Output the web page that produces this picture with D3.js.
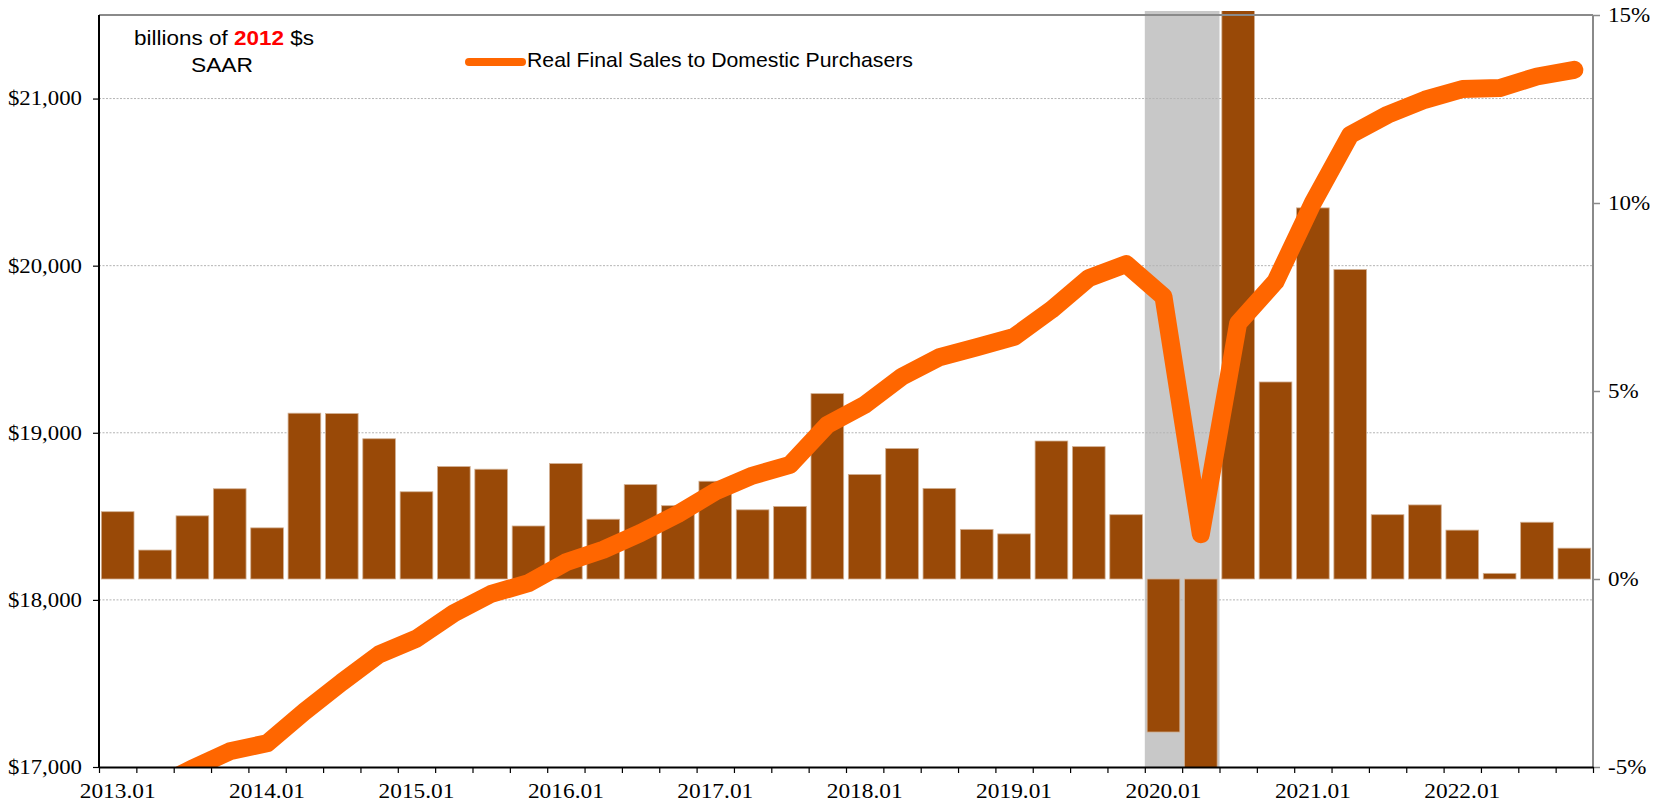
<!DOCTYPE html>
<html>
<head>
<meta charset="utf-8">
<script src="https://cdn.jsdelivr.net/npm/d3@7"></script>
<style>
  html, body { margin: 0; padding: 0; background: #fff; }
  svg { display: block; }
</style>
</head>
<body>
<svg id="chart" width="1662" height="804"></svg>
<script>
// ---------------- DATA ----------------
const quarters = [
  "2013.01","2013.04","2013.07","2013.10",
  "2014.01","2014.04","2014.07","2014.10",
  "2015.01","2015.04","2015.07","2015.10",
  "2016.01","2016.04","2016.07","2016.10",
  "2017.01","2017.04","2017.07","2017.10",
  "2018.01","2018.04","2018.07","2018.10",
  "2019.01","2019.04","2019.07","2019.10",
  "2020.01","2020.04","2020.07","2020.10",
  "2021.01","2021.04","2021.07","2021.10",
  "2022.01","2022.04","2022.07","2022.10"
];
// Real Final Sales to Domestic Purchasers, billions of 2012 $, SAAR (left axis)
const salesLevel = [
  16820, 16880, 16990, 17094,
  17142, 17331, 17507, 17674,
  17768, 17920, 18036, 18100,
  18225, 18300, 18400, 18514,
  18648, 18744, 18808, 19047,
  19167, 19336, 19452, 19512,
  19574, 19736, 19925, 20009,
  19815, 18393, 19656, 19905,
  20376, 20783, 20903, 20993,
  21057, 21063, 21132, 21172
];
// quarterly growth, % SAAR (right axis, bars)
const growthPct = [
  1.79, 0.77, 1.68, 2.40,
  1.36, 4.41, 4.40, 3.73,
  2.32, 2.99, 2.92, 1.41,
  3.07, 1.59, 2.51, 1.95,
  2.60, 1.84, 1.93, 4.93,
  2.78, 3.47, 2.41, 1.32,
  1.20, 3.67, 3.52, 1.71,
  -4.07, -31.6, 34.9, 5.24,
  9.87, 8.23, 1.71, 1.97,
  1.30, 0.15, 1.51, 0.82
];
const recessionQuarters = ["2020.01", "2020.04"];
const yearLabelQuarters = ["2013.01","2014.01","2015.01","2016.01","2017.01","2018.01","2019.01","2020.01","2021.01","2022.01"];
const leftTicks = [17000, 18000, 19000, 20000, 21000];
const rightTicks = [-5, 0, 5, 10, 15];
const legendLabel = "Real Final Sales to Domestic Purchasers";

// ---------------- LAYOUT ----------------
const L = 99, R = 1593, T = 15, B = 767;
const svg = d3.select("#chart");
const SERIF = "'Liberation Serif', 'Times New Roman', serif";
const SANS = "'Liberation Sans', Arial, sans-serif";

// widen glyphs horizontally (reference text is rendered slightly stretched)
function stretch(sel, factor) {
  sel.each(function () {
    const len = this.getComputedTextLength();
    d3.select(this).attr("textLength", len * factor).attr("lengthAdjust", "spacingAndGlyphs");
  });
}

const x = d3.scaleBand().domain(quarters).range([L, R]).paddingInner(0.125).paddingOuter(0.0625);
const xi = d3.scaleLinear().domain([0, quarters.length]).range([L, R]);
const yL = d3.scaleLinear().domain([17000, 21500]).range([B, T]);
const yR = d3.scaleLinear().domain([-5, 15]).range([B, T]);

svg.append("defs").append("clipPath").attr("id", "plotclip")
  .append("rect").attr("x", L).attr("y", 11).attr("width", R - L).attr("height", B - 11);

// recession shading
const half = x.step() * x.paddingInner() / 2;
svg.append("g").attr("clip-path", "url(#plotclip)")
  .selectAll("rect").data([recessionQuarters]).join("rect")
  .attr("x", d => x(d[0]) - half)
  .attr("width", d => x(d[d.length - 1]) + x.bandwidth() + half - (x(d[0]) - half))
  .attr("y", 11).attr("height", B - 11)
  .attr("fill", "#c8c8c8");

// gridlines
svg.append("g").selectAll("line").data(leftTicks.filter(v => v > 17000)).join("line")
  .attr("x1", L).attr("x2", R)
  .attr("y1", d => yL(d)).attr("y2", d => yL(d))
  .attr("stroke", "#b4b4b4").attr("stroke-width", 1).attr("stroke-dasharray", "2,1.5");

// bars
svg.append("g").attr("clip-path", "url(#plotclip)")
  .selectAll("rect").data(quarters.map((q, i) => ({ q, v: growthPct[i] }))).join("rect")
  .attr("x", d => x(d.q))
  .attr("width", x.bandwidth())
  .attr("y", d => yR(Math.max(0, d.v)))
  .attr("height", d => Math.abs(yR(d.v) - yR(0)))
  .attr("fill", "#994907")
  .attr("stroke", "#d2b093").attr("stroke-width", 0.8);

// line
const line = d3.line()
  .x((d, i) => x(quarters[i]) + x.bandwidth() / 2)
  .y(d => yL(d));
svg.append("g").attr("clip-path", "url(#plotclip)")
  .append("path").datum(salesLevel)
  .attr("d", line)
  .attr("fill", "none").attr("stroke", "#ff6600").attr("stroke-width", 18)
  .attr("stroke-linejoin", "round").attr("stroke-linecap", "round");

// frame: top border
svg.append("line").attr("x1", L).attr("x2", R).attr("y1", T).attr("y2", T)
  .attr("stroke", "#8a8a8a").attr("stroke-width", 2);

// left axis
const gLeft = svg.append("g").attr("transform", `translate(${L},0)`)
  .call(d3.axisLeft(yL).tickValues(leftTicks).tickSize(6).tickPadding(11)
    .tickFormat(d => "$" + d3.format(",")(d)));
gLeft.select(".domain").attr("d", `M0,${T}V${B}`).attr("stroke", "#000").attr("stroke-width", 2);
gLeft.selectAll(".tick line").attr("stroke", "#000").attr("stroke-width", 1.2);
gLeft.selectAll("text").attr("font-family", SERIF).attr("font-size", 20).attr("fill", "#000");
stretch(gLeft.selectAll("text"), 1.14);

// right axis
const gRight = svg.append("g").attr("transform", `translate(${R},0)`)
  .call(d3.axisRight(yR).tickValues(rightTicks).tickSize(7).tickPadding(8)
    .tickFormat(d => d + "%"));
gRight.select(".domain").attr("d", `M0,${T}V${B}`).attr("stroke", "#8a8a8a").attr("stroke-width", 2);
gRight.selectAll(".tick line").attr("stroke", "#8a8a8a").attr("stroke-width", 1.5);
gRight.selectAll("text").attr("font-family", SERIF).attr("font-size", 20).attr("fill", "#000");
stretch(gRight.selectAll("text"), 1.15);

// bottom axis: ticks at every quarter boundary
const gBottomTicks = svg.append("g").attr("transform", `translate(0,${B})`)
  .call(d3.axisBottom(xi).tickValues(d3.range(quarters.length + 1)).tickSizeInner(6).tickSizeOuter(0).tickFormat(""));
gBottomTicks.select(".domain").attr("stroke", "#000").attr("stroke-width", 2.2);
gBottomTicks.selectAll(".tick line").attr("stroke", "#000").attr("stroke-width", 1.2);

// bottom labels at Q1 band centers
const gBottomLabels = svg.append("g").attr("transform", `translate(0,${B})`)
  .call(d3.axisBottom(x).tickValues(yearLabelQuarters).tickSize(0).tickPadding(16));
gBottomLabels.select(".domain").remove();
gBottomLabels.selectAll("text").attr("font-family", SERIF).attr("font-size", 20.5).attr("fill", "#000");
stretch(gBottomLabels.selectAll("text"), 1.14);

// unit note
const note = svg.append("text").attr("x", 224).attr("y", 45)
  .attr("text-anchor", "middle")
  .attr("font-family", SANS).attr("font-size", 21).attr("fill", "#000")
  .attr("textLength", 180).attr("lengthAdjust", "spacingAndGlyphs");
note.append("tspan").text("billions of ");
note.append("tspan").text("2012").attr("fill", "#ff0000").attr("font-weight", "bold");
note.append("tspan").text(" $s");
svg.append("text").attr("x", 222).attr("y", 71.5).attr("text-anchor", "middle")
  .attr("font-family", SANS).attr("font-size", 21).attr("fill", "#000")
  .attr("textLength", 62).attr("lengthAdjust", "spacingAndGlyphs")
  .text("SAAR");

// legend
svg.append("line").attr("x1", 469).attr("x2", 522).attr("y1", 62).attr("y2", 62)
  .attr("stroke", "#ff6600").attr("stroke-width", 8).attr("stroke-linecap", "round");
svg.append("text").attr("x", 527).attr("y", 66.5)
  .attr("font-family", SANS).attr("font-size", 21).attr("fill", "#000")
  .attr("textLength", 386).attr("lengthAdjust", "spacingAndGlyphs")
  .text(legendLabel);
</script>
</body>
</html>
